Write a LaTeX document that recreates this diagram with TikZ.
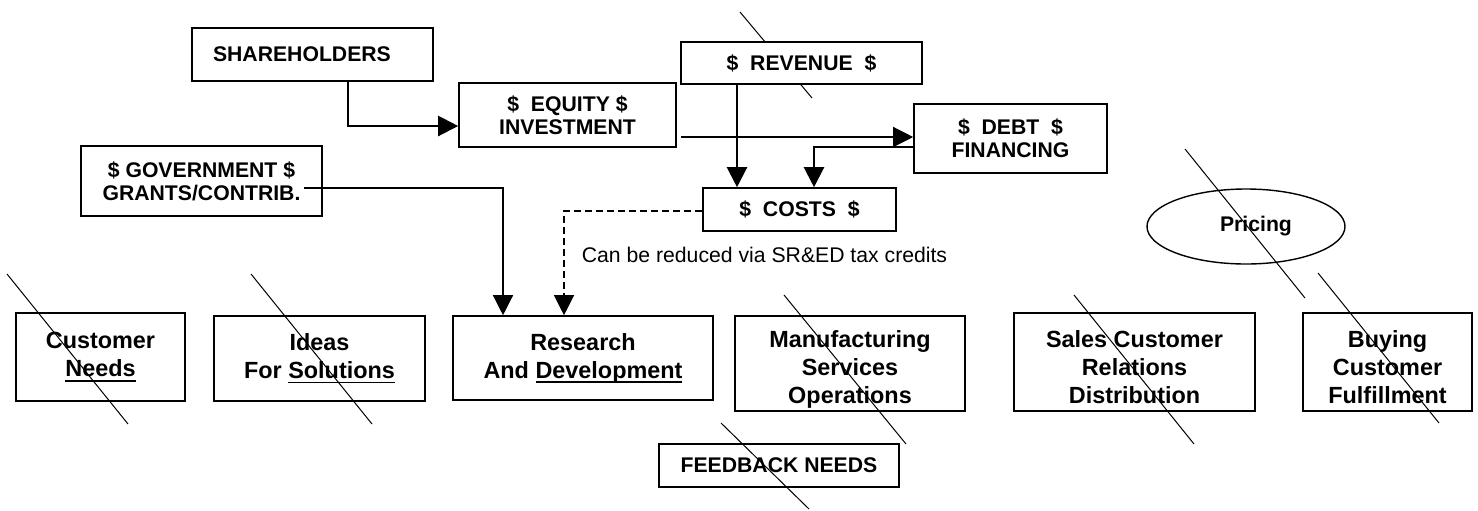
\documentclass[tikz,border=0pt]{standalone}
\usepackage{fontspec}
\setmainfont{Liberation Sans}
\usetikzlibrary{arrows.meta,shapes.geometric,calc}
\newcommand\thickul[1]{\setbox0\hbox{#1}\rlap{\rule[-2.4pt]{\wd0}{0.9pt}}\box0}
\newcommand\toppad{\rule{0pt}{14pt}}

\begin{document}
\begin{tikzpicture}[x=0.5pt,y=-0.5pt,>={Triangle[length=10pt,width=10pt]},
  box/.style={draw,line width=0.8pt,fill=white,align=center,inner sep=0pt,
    font=\bfseries\fontsize{10.6}{11.5}\selectfont},
  bigbox/.style={box,font=\bfseries\fontsize{11.7}{14}\selectfont},
  thickline/.style={line width=1.1pt},
  thinline/.style={line width=0.65pt},
  dashline/.style={line width=0.6pt,dash pattern=on 3.5pt off 2pt},
  slash/.style={line width=0.5pt}]
\useasboundingbox (0,0) rectangle (1478,510);

% money boxes
\draw [slash] (740,12) -- (812,98);
\node [box,minimum width=120.5pt,minimum height=21pt] (revenue) at (801.5,63) {\$\ \ REVENUE\ \ \$};
\node [box,minimum height=26.5pt,text width=99.5pt,inner xsep=10.5pt,align=left] (shareholders) at (312.5,54.5) {SHAREHOLDERS};
\node [box,minimum width=108.5pt,minimum height=32pt] (equity) at (567.5,115) {\$\ \ EQUITY \$\\INVESTMENT};
\node [box,minimum width=120.5pt,minimum height=35pt] (government) at (201.5,181) {\$ GOVERNMENT \$\\GRANTS/CONTRIB.};
\node [box,minimum width=96.5pt,minimum height=34.5pt] (debt) at (1010.5,138.5) {\$\ \ DEBT\ \ \$\\FINANCING};
\node [box,minimum width=96.5pt,minimum height=21.5pt] (costs) at (799.5,209.5) {\$\ \ COSTS\ \ \$};
\node (note) at (764.5,255) {\fontsize{10.6}{12}\selectfont Can be reduced via SR\&ED tax credits};
\node [ellipse,draw,line width=0.7pt,minimum width=99pt,minimum height=37.5pt,inner sep=0pt,
  font=\bfseries\fontsize{10.6}{12}\selectfont] (pricing) at (1246,226.5) {\hspace*{10pt}Pricing};

% value chain
\node [bigbox,minimum width=84.5pt,minimum height=44pt] (customer) at (100.5,357) {Customer\\\thickul{Needs}};
\node [bigbox,minimum width=105.5pt,minimum height=42.5pt] (ideas) at (319.5,358.5) {Ideas\\For \thickul{Solutions}};
\node [bigbox,minimum width=130pt,minimum height=42pt] (research) at (583,358) {Research\\And \thickul{Development}};
\node [bigbox,minimum width=115pt,minimum height=47.5pt] (manufacturing) at (850,363.5) {\toppad Manufacturing\\Services\\Operations};
\node [bigbox,minimum width=120.5pt,minimum height=49pt] (sales) at (1134.5,362) {\toppad Sales Customer\\Relations\\Distribution};
\node [bigbox,minimum width=84.5pt,minimum height=49pt] (buying) at (1387.5,362) {\toppad Buying\\Customer\\Fulfillment};
\node [box,minimum width=120pt,minimum height=21.5pt] (feedback) at (779,465.5) {FEEDBACK NEEDS};

% flows
\coordinate (eqout) at ($(equity.east)+(4,22)$);
\coordinate (govout) at ($(government.east)+(-19,7)$);
\draw [thickline,->] (shareholders.south -| 348,0) |- (equity.west |- 0,126);
\draw [thinline,->] (eqout) -- (debt.west |- eqout);
\draw [thickline,->] (revenue.south -| 737,0) -- (costs.north -| 737,0);
\draw [thickline,->] (debt.west |- 0,147) -| (costs.north -| 814,0);
\draw [thinline,->] (govout) -| (research.north -| 503,0);
\draw [dashline,->] (costs.west |- 0,211) -| (research.north -| 564,0);

% strike lines
\draw [slash] (7,274) -- (128,424);
\draw [slash] (251,274) -- (372,424);
\draw [slash] (784,295) -- (906,444);
\draw [slash] (721,423) -- (809,509);
\draw [slash] (1074,295) -- (1194,444);
\draw [slash] (1185,149) -- (1305,298);
\draw [slash] (1318,273) -- (1439,423);

\end{tikzpicture}
\end{document}
